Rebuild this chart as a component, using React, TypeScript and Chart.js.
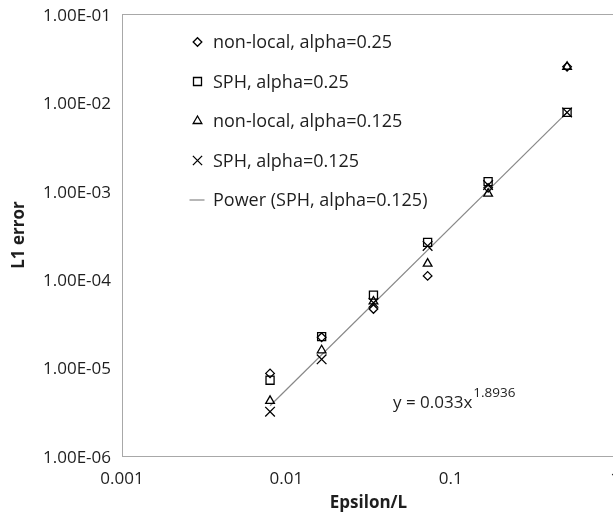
import React, { useEffect, useRef } from 'react';
import { Chart, registerables } from 'chart.js';

Chart.register(...registerables);

// ---- data ----
const xValues = [0.00796, 0.0164, 0.0339, 0.0724, 0.169, 0.511];
const nonLocal025 = [8.6e-6, 2.2e-5, 4.6e-5, 1.09e-4, 1.08e-3, 2.53e-2];
const sph025 = [7.2e-6, 2.24e-5, 6.6e-5, 2.61e-4, 1.27e-3, 7.7e-3];
const nonLocal0125 = [4.2e-6, 1.57e-5, 5.6e-5, 1.5e-4, 9.3e-4, 2.53e-2];
const sph0125 = [3.17e-6, 1.24e-5, 5.4e-5, 2.38e-4, 1.16e-3, 7.7e-3];
const trendX = [0.00796, 0.511];
const trendY = [3.7e-6, 7.7e-3];

const seriesLabels = [
  'non-local, alpha=0.25',
  'SPH, alpha=0.25',
  'non-local, alpha=0.125',
  'SPH, alpha=0.125',
  'Power (SPH, alpha=0.125)',
];
const xTicks = [0.001, 0.01, 0.1, 1];
const yTicks = [1e-6, 1e-5, 1e-4, 1e-3, 1e-2, 1e-1];
const xTitle = 'Epsilon/L';
const yTitle = 'L1 error';
const equationMain = 'y = 0.033x';
const equationExp = '1.8936';

const FONT = "'Open Sans', 'Noto Sans', sans-serif";
const TEXT = '#1e1e1e';
const CANVAS_W = 630;
const CANVAS_H = 515;
const PLOT_RIGHT = 615;

function fmtExp(v: number): string {
  const e = Math.round(Math.log10(v));
  const m = v / Math.pow(10, e);
  const sign = e < 0 ? '-' : '+';
  return m.toFixed(2) + 'E' + sign + String(Math.abs(e)).padStart(2, '0');
}

function toPts(xs: number[], ys: number[]) {
  return xs.map((x, i) => ({ x, y: ys[i] }));
}

type Marker = 'diamond' | 'square' | 'triangle' | 'cross' | 'line';

function drawMarker(ctx: CanvasRenderingContext2D, kind: Marker, x: number, y: number) {
  ctx.save();
  ctx.strokeStyle = kind === 'line' ? '#888888' : '#000000';
  ctx.lineWidth = kind === 'line' ? 1.2 : 1.3;
  ctx.beginPath();
  if (kind === 'diamond') {
    const r = 4.3;
    ctx.moveTo(x - r, y); ctx.lineTo(x, y - r); ctx.lineTo(x + r, y); ctx.lineTo(x, y + r); ctx.closePath();
  } else if (kind === 'square') {
    const h = 4;
    ctx.rect(x - h, y - h, 2 * h, 2 * h);
  } else if (kind === 'triangle') {
    const r = 5;
    ctx.moveTo(x, y - r);
    ctx.lineTo(x + r * Math.sin((2 * Math.PI) / 3), y - r * Math.cos((2 * Math.PI) / 3));
    ctx.lineTo(x + r * Math.sin((4 * Math.PI) / 3), y - r * Math.cos((4 * Math.PI) / 3));
    ctx.closePath();
  } else if (kind === 'cross') {
    const d = 4.6;
    ctx.moveTo(x - d, y - d); ctx.lineTo(x + d, y + d);
    ctx.moveTo(x + d, y - d); ctx.lineTo(x - d, y + d);
  } else {
    ctx.moveTo(x - 8, y); ctx.lineTo(x + 7, y);
  }
  ctx.stroke();
  ctx.restore();
}

const decorPlugin = {
  id: 'decor',
  beforeDatasetsDraw(chart: any) {
    const { ctx, chartArea: a } = chart;
    ctx.save();
    ctx.strokeStyle = '#a8a8a8';
    ctx.lineWidth = 1;
    ctx.strokeRect(Math.round(a.left) + 0.5, Math.round(a.top) + 0.5, Math.round(a.right - a.left), Math.round(a.bottom - a.top));
    ctx.restore();
  },
  afterDatasetsDraw(chart: any) {
    const { ctx, chartArea: a } = chart;
    // legend inside the plot
    const kinds: Marker[] = ['diamond', 'square', 'triangle', 'cross', 'line'];
    const mx = a.left + 75.5;
    const tx = a.left + 91;
    const y0 = a.top + 28;
    const dy = 39.5;
    ctx.save();
    ctx.font = `18px ${FONT}`;
    ctx.fillStyle = TEXT;
    ctx.textBaseline = 'middle';
    ctx.textAlign = 'left';
    seriesLabels.forEach((lab, i) => {
      const y = y0 + i * dy;
      drawMarker(ctx, kinds[i], mx, y);
      ctx.fillText(lab, tx, y + 1);
    });
    // trend equation
    const ex = a.left + 271;
    const ey = a.top + 389;
    ctx.font = `17px ${FONT}`;
    ctx.fillText(equationMain, ex, ey);
    const w = ctx.measureText(equationMain).width;
    ctx.font = `13.5px ${FONT}`;
    ctx.fillText(equationExp, ex + w + 1, ey - 10);
    ctx.restore();
  },
};

export default function App() {
  const ref = useRef<HTMLCanvasElement | null>(null);

  useEffect(() => {
    if (!ref.current) return;
    const tickFont = { family: FONT, size: 17 };
    const titleFont = { family: FONT, size: 17, weight: 'bold' as const };
    const markerBase = {
      showLine: false,
      borderColor: '#000000',
      backgroundColor: 'rgba(0,0,0,0)',
      pointBorderWidth: 1.3,
    };
    const chart = new Chart(ref.current, {
      type: 'scatter',
      data: {
        datasets: [
          {
            label: seriesLabels[4],
            data: toPts(trendX, trendY),
            showLine: true,
            borderColor: '#888888',
            borderWidth: 1.2,
            pointRadius: 0,
            order: 5,
          },
          { ...markerBase, label: seriesLabels[0], data: toPts(xValues, nonLocal025), pointStyle: 'rectRot', pointRadius: 4.3, order: 4 },
          { ...markerBase, label: seriesLabels[1], data: toPts(xValues, sph025), pointStyle: 'rect', pointRadius: 5.7, order: 3 },
          { ...markerBase, label: seriesLabels[2], data: toPts(xValues, nonLocal0125), pointStyle: 'triangle', pointRadius: 5, order: 2 },
          { ...markerBase, label: seriesLabels[3], data: toPts(xValues, sph0125), pointStyle: 'crossRot', pointRadius: 6.8, order: 1 },
        ],
      },
      options: {
        animation: false,
        responsive: false,
        events: [],
        layout: { padding: { top: 14, right: CANVAS_W - PLOT_RIGHT, left: 0, bottom: 0 } },
        plugins: { legend: { display: false }, tooltip: { enabled: false } },
        scales: {
          x: {
            type: 'logarithmic',
            min: 0.001,
            max: 1,
            afterBuildTicks: (s: any) => { s.ticks = xTicks.map((v) => ({ value: v })); },
            afterFit: (s: any) => { s.height = 59; s.paddingLeft = 0; s.paddingRight = 0; },
            grid: { display: false, drawTicks: false },
            border: { display: false },
            ticks: {
              autoSkip: false,
              maxRotation: 0,
              padding: 13,
              color: TEXT,
              font: tickFont,
              callback: (v: any) => String(v),
            },
            title: { display: true, text: xTitle, color: TEXT, font: titleFont, padding: { top: 0, bottom: 2 } },
          },
          y: {
            type: 'logarithmic',
            min: 1e-6,
            max: 1e-1,
            afterBuildTicks: (s: any) => { s.ticks = yTicks.map((v) => ({ value: v })); },
            afterFit: (s: any) => { s.width = 122; s.paddingTop = 0; s.paddingBottom = 0; },
            grid: { display: false, drawTicks: false },
            border: { display: false },
            ticks: {
              autoSkip: false,
              padding: 11,
              labelOffset: 2,
              color: TEXT,
              font: tickFont,
              callback: (v: any) => fmtExp(Number(v)),
            },
            title: { display: true, text: yTitle, color: TEXT, font: titleFont, padding: { top: 9, bottom: 0 } },
          },
        },
      },
      plugins: [decorPlugin],
    } as any);
    return () => chart.destroy();
  }, []);

  return (
    <div style={{ position: 'fixed', left: 0, top: 0, width: 613, height: 515, overflow: 'hidden', background: '#ffffff' }}>
      <canvas ref={ref} width={CANVAS_W} height={CANVAS_H} style={{ display: 'block', width: CANVAS_W, height: CANVAS_H }} />
    </div>
  );
}
